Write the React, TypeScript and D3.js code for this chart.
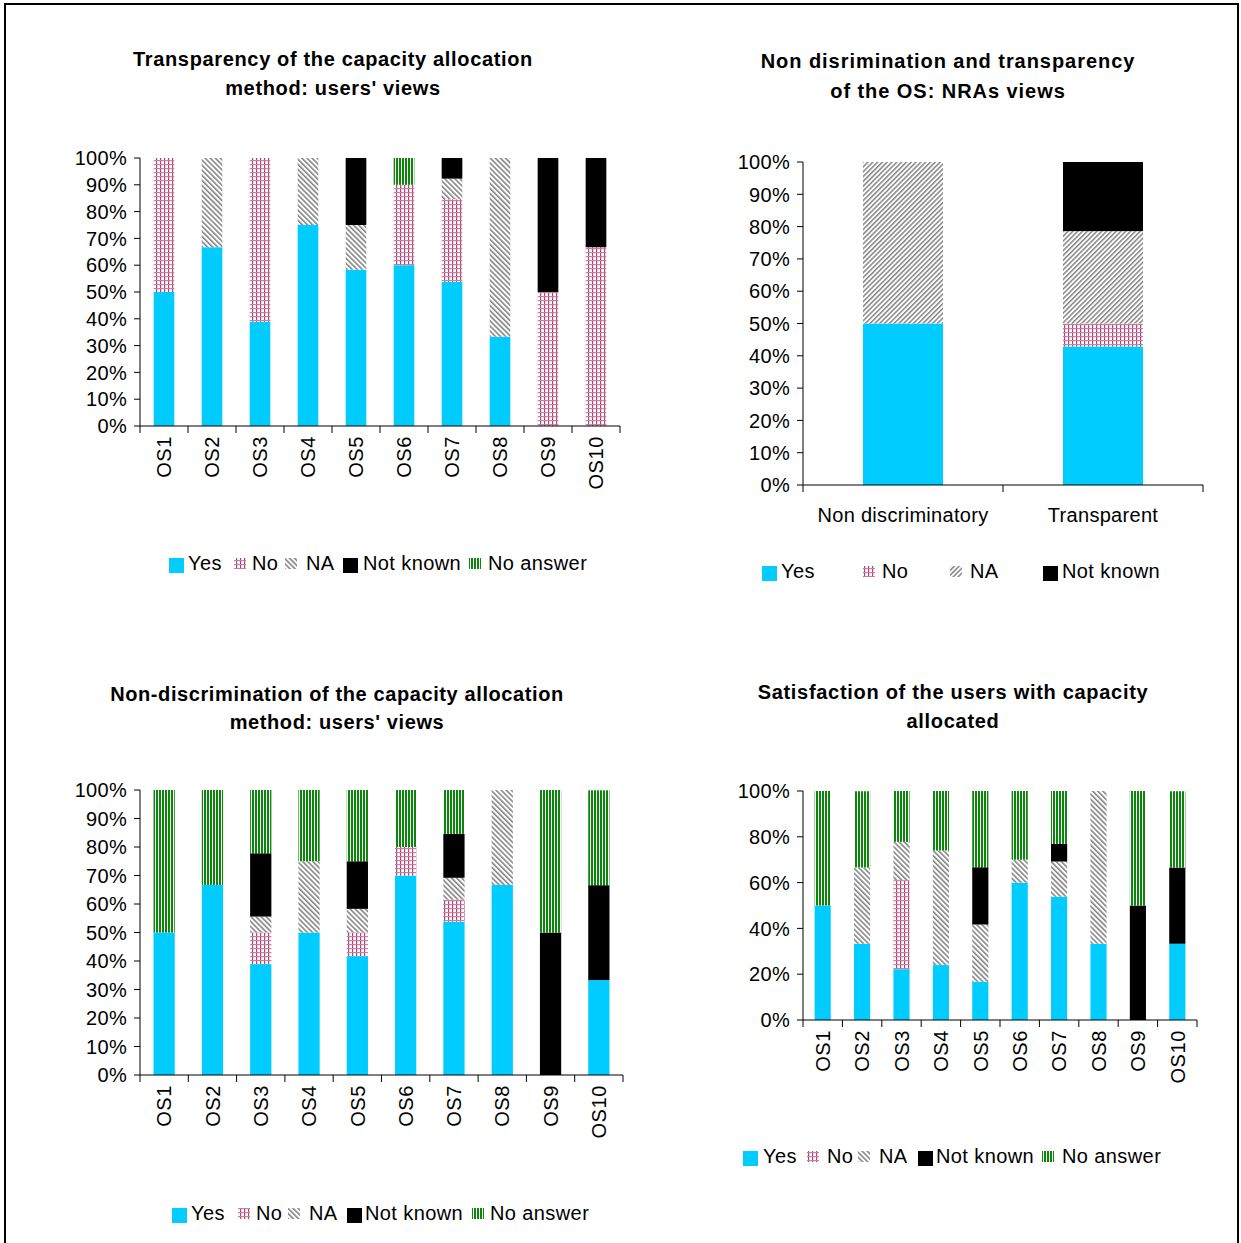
import React from "react";
import * as d3 from "d3";

// ---------- data ----------
const seriesKeys = ["Yes", "No", "NA", "Not known", "No answer"];
const osCategories = ["OS1", "OS2", "OS3", "OS4", "OS5", "OS6", "OS7", "OS8", "OS9", "OS10"];

// Transparency of the capacity allocation method: users' views
const transYes = [50, 66.7, 38.9, 75, 58.3, 60, 53.8, 33.3, 0, 0];
const transNo = [50, 0, 61.1, 0, 0, 30, 30.8, 0, 50, 66.7];
const transNA = [0, 33.3, 0, 25, 16.7, 0, 7.7, 66.7, 0, 0];
const transNotKnown = [0, 0, 0, 0, 25, 0, 7.7, 0, 50, 33.3];
const transNoAnswer = [0, 0, 0, 0, 0, 10, 0, 0, 0, 0];

// Non discrimination and transparency of the OS: NRAs views
const nraCategories = ["Non discriminatory", "Transparent"];
const nraKeys = ["Yes", "No", "NA", "Not known"];
const nraYes = [50, 42.9];
const nraNo = [0, 7.1];
const nraNA = [50, 28.6];
const nraNotKnown = [0, 21.4];

// Non-discrimination of the capacity allocation method: users' views
const discYes = [50, 66.7, 38.9, 50, 41.7, 70, 53.8, 66.7, 0, 33.3];
const discNo = [0, 0, 11.1, 0, 8.3, 10, 7.7, 0, 0, 0];
const discNA = [0, 0, 5.6, 25, 8.3, 0, 7.7, 33.3, 0, 0];
const discNotKnown = [0, 0, 22.2, 0, 16.7, 0, 15.4, 0, 50, 33.3];
const discNoAnswer = [50, 33.3, 22.2, 25, 25, 20, 15.4, 0, 50, 33.3];

// Satisfaction of the users with capacity allocated
const satYes = [50, 33.3, 22.2, 24, 16.7, 60, 53.8, 33.3, 0, 33.3];
const satNo = [0, 0, 38.9, 0, 0, 0, 0, 0, 0, 0];
const satNA = [0, 33.3, 16.7, 50, 25, 10, 15.4, 66.7, 0, 0];
const satNotKnown = [0, 0, 0, 0, 25, 0, 7.7, 0, 50, 33.3];
const satNoAnswer = [50, 33.3, 22.2, 26, 33.3, 30, 23.1, 0, 50, 33.3];

const ticks10 = [0, 10, 20, 30, 40, 50, 60, 70, 80, 90, 100];
const ticks20 = [0, 20, 40, 60, 80, 100];

// ---------- styles ----------
const FONT = "'Liberation Sans', Arial, Helvetica, sans-serif";

function fillFor(key: string, naId: string) {
  switch (key) {
    case "Yes": return "#00CCFF";
    case "No": return "url(#pNo)";
    case "NA": return `url(#${naId})`;
    case "Not known": return "#000000";
    default: return "url(#pGreen)";
  }
}

type LegendItem = { key: string; sx: number; tx: number };

type PanelCfg = {
  title: string[];
  titleX: number;
  titleY: number[];
  titleSpacing: number;
  categories: string[];
  keys: string[];
  values: number[][];
  x0: number; x1: number; yTop: number; yBottom: number;
  barFrac: number;
  ticks: number[];
  rotated: boolean;
  naId: string;
  legendY: number;
  solidOffset: number;
  legend: LegendItem[];
};

function Panel({ cfg }: { cfg: PanelCfg }) {
  const x = d3.scaleBand<string>().domain(cfg.categories).range([cfg.x0, cfg.x1]).padding(0);
  const y = d3.scaleLinear().domain([0, 100]).range([cfg.yBottom, cfg.yTop]);
  const rows = cfg.categories.map((c, i) => {
    const o: any = { cat: c };
    cfg.keys.forEach((k, j) => (o[k] = cfg.values[j][i]));
    return o;
  });
  const stacked = d3.stack<any>().keys(cfg.keys)(rows);
  const bw = x.bandwidth() * cfg.barFrac;
  const bounds = cfg.categories.map((c) => x(c) as number).concat([cfg.x1]);

  return (
    <g>
      {cfg.title.map((t, i) => (
        <text key={i} x={cfg.titleX} y={cfg.titleY[i]} textAnchor="middle" fontFamily={FONT}
          fontWeight="bold" fontSize={20} letterSpacing={cfg.titleSpacing} fill="#000">{t}</text>
      ))}
      {stacked.map((s) => (
        <g key={s.key} fill={fillFor(s.key, cfg.naId)}>
          {s.map((d, i) => {
            const h = y(d[0]) - y(d[1]);
            if (h <= 0.01) return null;
            const cx = (x(cfg.categories[i]) as number) + x.bandwidth() / 2;
            return <rect key={i} x={cx - bw / 2} y={y(d[1])} width={bw} height={h} />;
          })}
        </g>
      ))}
      {/* y axis */}
      <line x1={cfg.x0} x2={cfg.x0} y1={cfg.yTop} y2={cfg.yBottom} stroke="#000" strokeWidth={1} />
      {cfg.ticks.map((t) => (
        <g key={t}>
          <line x1={cfg.x0 - 6} x2={cfg.x0} y1={y(t)} y2={y(t)} stroke="#000" strokeWidth={1} />
          <text x={cfg.x0 - 13} y={y(t)} dy="0.36em" textAnchor="end" fontFamily={FONT} fontSize={20}
            letterSpacing={0.3} fill="#000">{t}%</text>
        </g>
      ))}
      {/* x axis */}
      <line x1={cfg.x0} x2={cfg.x1} y1={cfg.yBottom} y2={cfg.yBottom} stroke="#000" strokeWidth={1} />
      {bounds.map((bx, i) => (
        <line key={i} x1={bx} x2={bx} y1={cfg.yBottom} y2={cfg.yBottom + 7} stroke="#000" strokeWidth={1} />
      ))}
      {cfg.categories.map((c) => {
        const cx = (x(c) as number) + x.bandwidth() / 2;
        return cfg.rotated ? (
          <text key={c} transform={`translate(${cx},${cfg.yBottom + 10}) rotate(-90)`} dy="0.36em"
            textAnchor="end" fontFamily={FONT} fontSize={20} letterSpacing={0.6} fill="#000">{c}</text>
        ) : (
          <text key={c} x={cx} y={cfg.yBottom + 37} textAnchor="middle" fontFamily={FONT} fontSize={20}
            letterSpacing={0.3} fill="#000">{c}</text>
        );
      })}
      {/* legend */}
      {cfg.legend.map((it) => {
        const solid = it.key === "Yes" || it.key === "Not known";
        return (
          <g key={it.key}>
            {solid ? (
              <rect x={it.sx} y={cfg.legendY + cfg.solidOffset} width={15} height={15} fill={fillFor(it.key, cfg.naId)} />
            ) : (
              <rect x={it.sx} y={cfg.legendY - 12} width={12} height={11} fill={fillFor(it.key, cfg.naId)} />
            )}
            <text x={it.tx} y={cfg.legendY} fontFamily={FONT} fontSize={20} letterSpacing={0.4} fill="#000">{it.key}</text>
          </g>
        );
      })}
    </g>
  );
}

const panels: PanelCfg[] = [
  {
    title: ["Transparency of the capacity allocation", "method: users' views"],
    titleX: 333, titleY: [66, 95], titleSpacing: 0.65,
    categories: osCategories, keys: seriesKeys,
    values: [transYes, transNo, transNA, transNotKnown, transNoAnswer],
    x0: 140, x1: 620, yTop: 158, yBottom: 426, barFrac: 0.43,
    ticks: ticks10, rotated: true, naId: "pNA1",
    legendY: 570, solidOffset: -12,
    legend: [
      { key: "Yes", sx: 169, tx: 188 },
      { key: "No", sx: 234, tx: 252 },
      { key: "NA", sx: 285, tx: 306 },
      { key: "Not known", sx: 343, tx: 363 },
      { key: "No answer", sx: 469, tx: 488 },
    ],
  },
  {
    title: ["Non disrimination and transparency", "of the OS: NRAs views"],
    titleX: 948, titleY: [68, 98], titleSpacing: 0.95,
    categories: nraCategories, keys: nraKeys,
    values: [nraYes, nraNo, nraNA, nraNotKnown],
    x0: 803, x1: 1203, yTop: 162, yBottom: 485, barFrac: 0.4,
    ticks: ticks10, rotated: false, naId: "pNA2",
    legendY: 578, solidOffset: -12,
    legend: [
      { key: "Yes", sx: 762, tx: 781 },
      { key: "No", sx: 863, tx: 882 },
      { key: "NA", sx: 950, tx: 970 },
      { key: "Not known", sx: 1043, tx: 1062 },
    ],
  },
  {
    title: ["Non-discrimination of the capacity allocation", "method: users' views"],
    titleX: 337, titleY: [701, 729], titleSpacing: 0.6,
    categories: osCategories, keys: seriesKeys,
    values: [discYes, discNo, discNA, discNotKnown, discNoAnswer],
    x0: 140, x1: 623, yTop: 790, yBottom: 1075, barFrac: 0.44,
    ticks: ticks10, rotated: true, naId: "pNA1",
    legendY: 1220, solidOffset: -12,
    legend: [
      { key: "Yes", sx: 172, tx: 191 },
      { key: "No", sx: 238, tx: 256 },
      { key: "NA", sx: 288, tx: 309 },
      { key: "Not known", sx: 347, tx: 365 },
      { key: "No answer", sx: 472, tx: 490 },
    ],
  },
  {
    title: ["Satisfaction of the users with capacity", "allocated"],
    titleX: 953, titleY: [699, 728], titleSpacing: 0.7,
    categories: osCategories, keys: seriesKeys,
    values: [satYes, satNo, satNA, satNotKnown, satNoAnswer],
    x0: 803, x1: 1197, yTop: 791, yBottom: 1020, barFrac: 0.41,
    ticks: ticks20, rotated: true, naId: "pNA1",
    legendY: 1163, solidOffset: -12,
    legend: [
      { key: "Yes", sx: 743, tx: 763 },
      { key: "No", sx: 807, tx: 827 },
      { key: "NA", sx: 858, tx: 879 },
      { key: "Not known", sx: 918, tx: 936 },
      { key: "No answer", sx: 1042, tx: 1062 },
    ],
  },
];

export default function App() {
  return (
    <svg width={1241} height={1243} viewBox="0 0 1241 1243"
      style={{ position: "absolute", left: 0, top: 0, background: "#fff" }}>
      <defs>
        <pattern id="pNo" width={4} height={4} patternUnits="userSpaceOnUse">
          <rect width={4} height={4} fill="#fff" />
          <rect x={0} y={0} width={1.2} height={4} fill="#a8457a" />
          <rect x={0} y={0} width={4} height={1.2} fill="#c9809f" />
        </pattern>
        <pattern id="pNA1" width={3.6} height={3.6} patternUnits="userSpaceOnUse" patternTransform="rotate(-45)">
          <rect width={3.6} height={3.6} fill="#fff" />
          <rect x={0} y={0} width={1.6} height={3.6} fill="#858585" />
        </pattern>
        <pattern id="pNA2" width={3.4} height={3.4} patternUnits="userSpaceOnUse" patternTransform="rotate(45)">
          <rect width={3.4} height={3.4} fill="#fff" />
          <rect x={0} y={0} width={1.5} height={3.4} fill="#858585" />
        </pattern>
        <pattern id="pGreen" width={3} height={3} patternUnits="userSpaceOnUse">
          <rect width={3} height={3} fill="#fff" />
          <rect x={0} y={0} width={2} height={3} fill="#0a870a" />
        </pattern>
      </defs>
      <rect x={0} y={0} width={1241} height={1243} fill="#fff" />
      <rect x={5} y={4} width={1233} height={1250} fill="none" stroke="#000" strokeWidth={2} />
      {panels.map((p, i) => (
        <Panel key={i} cfg={p} />
      ))}
    </svg>
  );
}
